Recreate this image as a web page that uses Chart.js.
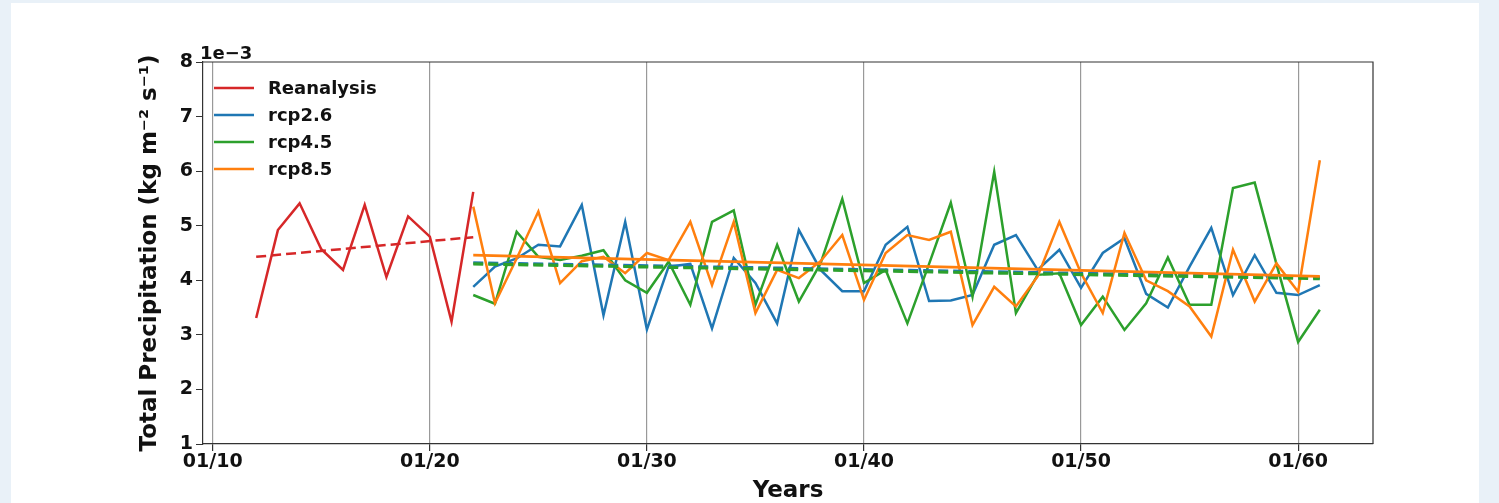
<!DOCTYPE html>
<html><head><meta charset="utf-8">
<script src="https://cdn.jsdelivr.net/npm/chart.js@4.4.1/dist/chart.umd.min.js"></script>
<style>html,body{margin:0;padding:0;background:#e9f1f8;overflow:hidden}
canvas{display:block}</style></head><body>
<canvas id="c" width="1499" height="503"></canvas>
<script>
const reanalysisYears = [2012,2013,2014,2015,2016,2017,2018,2019,2020,2021,2022];
const reanalysisValues = [3.31,4.92,5.41,4.57,4.19,5.38,4.06,5.17,4.8,3.24,5.62];
const rcpYears = [2022,2023,2024,2025,2026,2027,2028,2029,2030,2031,2032,2033,2034,2035,2036,2037,2038,2039,2040,2041,2042,2043,2044,2045,2046,2047,2048,2049,2050,2051,2052,2053,2054,2055,2056,2057,2058,2059,2060,2061];
const rcp26Values = [3.88,4.25,4.4,4.65,4.62,5.38,3.36,5.07,3.1,4.25,4.3,3.12,4.41,3.95,3.21,4.92,4.19,3.8,3.8,4.65,4.98,3.62,3.63,3.73,4.65,4.83,4.19,4.56,3.86,4.5,4.77,3.75,3.5,4.25,4.96,3.73,4.46,3.77,3.73,3.91];
const rcp45Values = [3.73,3.57,4.89,4.43,4.37,4.45,4.55,4.0,3.77,4.34,3.55,5.07,5.28,3.55,4.65,3.61,4.31,5.49,3.95,4.19,3.21,4.3,5.42,3.7,5.99,3.4,4.1,4.13,3.18,3.7,3.09,3.58,4.42,3.55,3.55,5.69,5.79,4.3,2.87,3.46];
const rcp85Values = [5.35,3.58,4.4,5.26,3.95,4.35,4.43,4.13,4.5,4.37,5.07,3.91,5.07,3.4,4.19,4.04,4.35,4.83,3.64,4.5,4.83,4.74,4.89,3.18,3.88,3.52,4.07,5.07,4.13,3.4,4.87,4.0,3.8,3.52,2.97,4.56,3.61,4.31,3.79,6.2];
// trend line endpoints
const reanalysisTrendYears = [2012,2022];
const reanalysisTrendValues = [4.43,4.79];
const rcpTrendYears = [2022,2061];
const rcp26TrendValues = [4.32,4.05];
const rcp45TrendValues = [4.30,4.03];
const rcp85TrendValues = [4.46,4.07];
const xTickValues = [2010,2020,2030,2040,2050,2060];
const xTickLabels = ['01/10','01/20','01/30','01/40','01/50','01/60'];
const seriesNames = ['Reanalysis','rcp2.6','rcp4.5','rcp8.5'];
const seriesColors = ['#d62728','#1f77b4','#2ca02c','#ff7f0e'];

const pts = (xs, ys) => xs.map((x, i) => ({x: x, y: ys[i]}));
const FONT = '"DejaVu Sans", sans-serif';

const dsList = [
  {label: seriesNames[0], data: pts(reanalysisYears, reanalysisValues), borderColor: seriesColors[0], borderWidth: 2.5},
  {label: 'trendR', data: pts(reanalysisTrendYears, reanalysisTrendValues), borderColor: seriesColors[0], borderWidth: 2.5, borderDash: [10,5]},
  {label: seriesNames[1], data: pts(rcpYears, rcp26Values), borderColor: seriesColors[1], borderWidth: 2.5},
  {label: seriesNames[2], data: pts(rcpYears, rcp45Values), borderColor: seriesColors[2], borderWidth: 2.5},
  {label: seriesNames[3], data: pts(rcpYears, rcp85Values), borderColor: seriesColors[3], borderWidth: 2.5},
  {label: 'trend26', data: pts(rcpTrendYears, rcp26TrendValues), borderColor: seriesColors[1], borderWidth: 3.2, borderDash: [10,5]},
  {label: 'trend45', data: pts(rcpTrendYears, rcp45TrendValues), borderColor: seriesColors[2], borderWidth: 3.2, borderDash: [10,5]},
  {label: 'trend85', data: pts(rcpTrendYears, rcp85TrendValues), borderColor: seriesColors[3], borderWidth: 2.8}
];
dsList.forEach((d, i) => { d.order = -i; d.pointRadius = 0; d.tension = 0; d.fill = false; });

const bgPlugin = {
  id: 'bg',
  beforeDraw(chart) {
    const ctx = chart.ctx;
    ctx.save();
    ctx.fillStyle = '#e9f1f8';
    ctx.fillRect(0, 0, chart.width, chart.height);
    ctx.fillStyle = '#ffffff';
    ctx.fillRect(11, 3, 1468, 500);
    ctx.restore();
  },
  afterDraw(chart) {
    const ctx = chart.ctx;
    const a = chart.chartArea;
    ctx.save();
    ctx.strokeStyle = '#333';
    ctx.lineWidth = 1.2;
    ctx.beginPath();
    ctx.moveTo(a.left, a.top); ctx.lineTo(a.right, a.top); ctx.lineTo(a.right, a.bottom);
    ctx.stroke();
    ctx.fillStyle = '#111';
    ctx.font = 'bold 18px ' + FONT;
    ctx.textAlign = 'left';
    ctx.textBaseline = 'alphabetic';
    ctx.fillText('1e\u22123', a.left - 3, a.top - 3);
    // legend
    const rows = [88, 115, 142, 169];
    for (let i = 0; i < seriesNames.length; i++) {
      ctx.strokeStyle = seriesColors[i];
      ctx.lineWidth = 2.5;
      ctx.beginPath();
      ctx.moveTo(214, rows[i]); ctx.lineTo(254, rows[i]);
      ctx.stroke();
      ctx.fillStyle = '#111';
      ctx.textBaseline = 'middle';
      ctx.fillText(seriesNames[i], 268, rows[i] + 1);
    }
    ctx.restore();
  }
};

new Chart(document.getElementById('c'), {
  type: 'line',
  data: {datasets: dsList},
  options: {
    responsive: false,
    animation: false,
    devicePixelRatio: 1,
    layout: {padding: {left: 133, top: 62, right: 126, bottom: 0}},
    plugins: {legend: {display: false}, tooltip: {enabled: false}},
    scales: {
      x: {
        type: 'linear', min: 2009.55, max: 2063.45,
        afterBuildTicks(s) { s.ticks = xTickValues.map(v => ({value: v})); },
        afterFit(s) { s.height = 59; },
        ticks: {
          autoSkip: false, maxRotation: 0, padding: 0,
          color: '#111', font: {family: FONT, size: 19, weight: 'bold'},
          callback(v) { const i = xTickValues.indexOf(v); return i >= 0 ? xTickLabels[i] : ''; }
        },
        grid: {color: '#999999', lineWidth: 1.2, tickColor: '#333', tickLength: 7, drawOnChartArea: true},
        border: {display: true, color: '#333', width: 1.2},
        title: {display: true, text: 'Years', color: '#111', font: {family: FONT, size: 23, weight: 'bold', lineHeight: 1.05}, padding: {top: 0, bottom: 0}}
      },
      y: {
        min: 1, max: 8,
        afterFit(s) { s.width = 70; },
        ticks: {stepSize: 1, padding: 3, color: '#111', font: {family: FONT, size: 19, weight: 'bold'}},
        grid: {drawOnChartArea: false, color: '#333', tickColor: '#333', tickLength: 7},
        border: {display: true, color: '#333', width: 1.2},
        title: {display: true, text: 'Total Precipitation (kg m\u207B\u00B2 s\u207B\u00B9)', color: '#111', font: {family: FONT, size: 23, weight: 'bold', lineHeight: 1.2}, padding: {top: 3, bottom: 0}}
      }
    }
  },
  plugins: [bgPlugin]
});
</script>
</body></html>
